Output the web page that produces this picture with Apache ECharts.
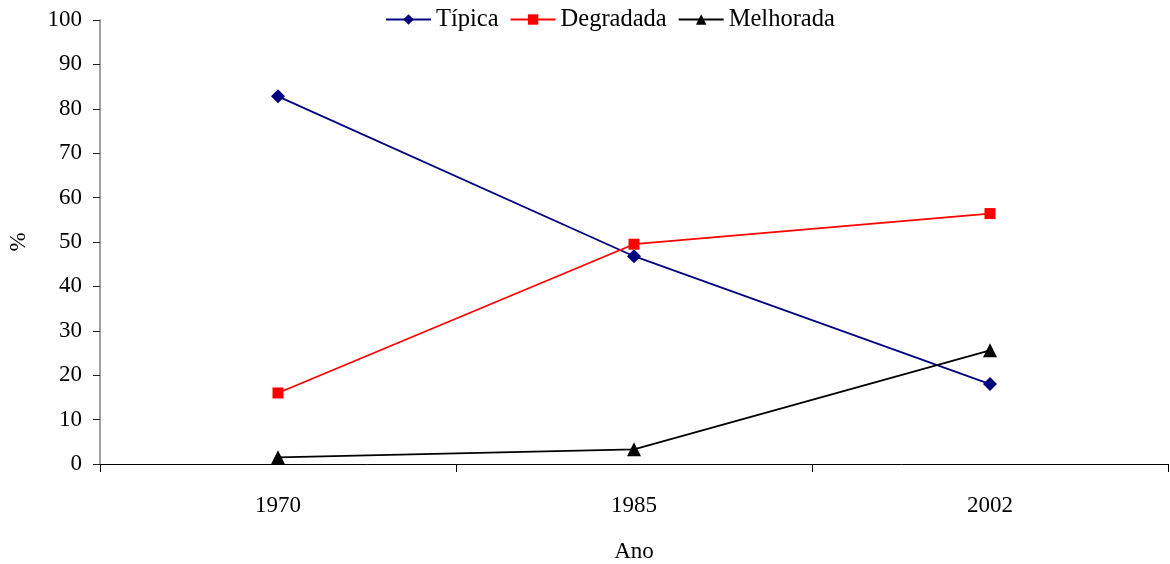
<!DOCTYPE html>
<html>
<head>
<meta charset="utf-8">
<script src="https://cdn.jsdelivr.net/npm/echarts@6/dist/echarts.min.js"></script>
<style>html,body{margin:0;padding:0;background:#fff}#c{width:1170px;height:564px}</style>
</head>
<body>
<div id="c"></div>
<script>
const categories = ['1970', '1985', '2002'];
const tipica = [82.8, 46.8, 18.0];
const degradada = [16.0, 49.5, 56.4];
const melhorada = [1.5, 3.3, 25.6];

const font = 'Liberation Serif, Times New Roman, serif';
const chart = echarts.init(document.getElementById('c'));
chart.setOption({
  animation: false,
  textStyle: { fontFamily: font, color: '#000' },
  legend: {
    top: 7, left: 385, padding: 0, itemWidth: 45, itemHeight: 13, itemGap: 11,
    textStyle: { fontFamily: font, fontSize: 24.5, color: '#000' },
    data: ['Típica', 'Degradada', 'Melhorada']
  },
  grid: { left: 100, right: 2, top: 20, bottom: 100, containLabel: false, outerBoundsMode: 'none' },
  xAxis: {
    type: 'category', data: categories, boundaryGap: true,
    name: 'Ano', nameLocation: 'middle', nameGap: 76,
    nameTextStyle: { fontFamily: font, fontSize: 23, color: '#000' },
    axisLine: { lineStyle: { color: '#000', width: 1 } },
    axisTick: { show: true, length: 8, lineStyle: { color: '#000' } },
    axisLabel: { fontFamily: font, fontSize: 23, color: '#000', margin: 30 }
  },
  yAxis: {
    type: 'value', min: 0, max: 100, interval: 10,
    name: '%', nameLocation: 'middle', nameGap: 70, nameRotate: 90,
    nameTextStyle: { fontFamily: font, fontSize: 23, color: '#000' },
    axisLine: { show: true, lineStyle: { color: '#808080', width: 1.5 } },
    axisTick: { show: true, length: 7, lineStyle: { color: '#222' } },
    axisLabel: { fontFamily: font, fontSize: 23, color: '#000', margin: 18 },
    splitLine: { show: false }
  },
  series: [
    { name: 'Típica', type: 'line', data: tipica, symbol: 'diamond', symbolSize: 14,
      itemStyle: { color: '#000080' }, lineStyle: { color: '#000080', width: 1.8 } },
    { name: 'Degradada', type: 'line', data: degradada, symbol: 'rect', symbolSize: 11,
      itemStyle: { color: '#ff0000' }, lineStyle: { color: '#ff0000', width: 1.8 } },
    { name: 'Melhorada', type: 'line', data: melhorada, symbol: 'triangle', symbolSize: 14,
      itemStyle: { color: '#000000' }, lineStyle: { color: '#000000', width: 1.8 } }
  ]
});
</script>
</body>
</html>
